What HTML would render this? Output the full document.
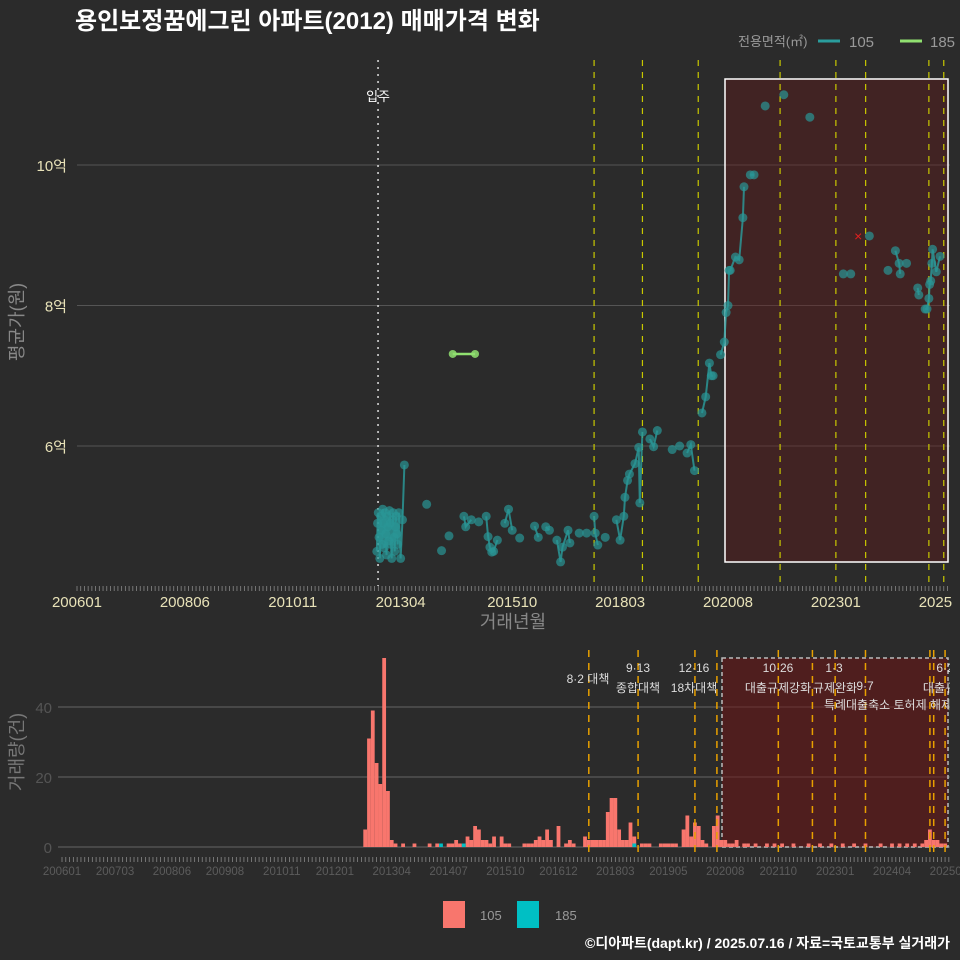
<!DOCTYPE html>
<html><head><meta charset="utf-8">
<style>
html,body{margin:0;padding:0;background:#2b2b2b;}
svg{display:block;font-family:"Liberation Sans","Noto Sans CJK KR",sans-serif;}
</style></head>
<body>
<svg id="chart" width="960" height="960" viewBox="0 0 960 960">
<rect x="0" y="0" width="960" height="960" fill="#2b2b2b"/>
<text x="75" y="29" fill="#ffffff" font-size="24" font-weight="bold">용인보정꿈에그린 아파트(2012) 매매가격 변화</text>
<g>
<text x="738" y="46" fill="#999" font-size="13">전용면적(㎡)</text>
<line x1="818" y1="41" x2="840" y2="41" stroke="#2a9d9d" stroke-width="3"/>
<text x="849" y="47" fill="#999" font-size="15">105</text>
<line x1="900" y1="41" x2="922" y2="41" stroke="#90e070" stroke-width="3"/>
<text x="930" y="47" fill="#999" font-size="15">185</text>
</g>
<defs><clipPath id="tclip"><rect x="0" y="590" width="952" height="30"/></clipPath></defs>
<g id="topPanel"></g>
<g id="botPanel"></g>
<g>
<rect x="443" y="901" width="22" height="27" fill="#f8766d"/>
<text x="480" y="920" fill="#999" font-size="13">105</text>
<rect x="517" y="901" width="22" height="27" fill="#00bfc4"/>
<text x="555" y="920" fill="#999" font-size="13">185</text>
</g>
<text x="950" y="948" fill="#ffffff" font-size="14" font-weight="bold" text-anchor="end">©디아파트(dapt.kr) / 2025.07.16 / 자료=국토교통부 실거래가</text>
</svg>
<script>
// month index m = months since 2006-01
const yTicks = [6, 8, 10];
const yTickLabels = ["6억", "8억", "10억"];
const xTickMonths = [0, 29, 58, 87, 117, 146, 175, 204, 233];
const xTickLabels = ["200601","200806","201011","201304","201510","201803","202008","202301","202506"];
const p105m = [80.6,80.8,81,81.2,81.4,81.6,81.8,82,82.2,82.4,82.6,82.8,83,83.2,83.4,83.6,83.8,84,84.2,84.4,84.6,84.8,85,85.2,85.4,85.6,85.8,86,86.2,86.5,87,87.5,88,
 94,98,100,104,104.5,106,108,110,110.5,111,111.5,112,113,115,116,117,119,123,124,126,127,129,130,130.5,132,132.5,135,137,139,139.3,140,142,145,146,147,147.3,148,148.5,150,151,151.3,152,154,155,156,
 160,162,164,165,166,168,169,170,170.5,171,173,174,174.5,175,175.3,175.6,177,178,179,179.3,181,182,185,190,197,206,208,213,218,220,221,221.3,223,226,226.3,228,228.5,229,229.2,229.5,229.8,230,231,232];
const p105v = [4.5,4.9,5.05,4.7,4.4,5.0,4.8,4.6,5.1,4.9,4.55,5.05,4.75,4.45,5.0,4.85,4.65,5.08,4.9,4.6,4.4,4.95,5.05,4.7,4.5,4.85,5.0,4.75,4.6,5.05,4.4,4.95,5.73,
 5.17,4.51,4.72,5.0,4.85,4.95,4.92,5.0,4.71,4.56,4.49,4.5,4.66,4.9,5.1,4.8,4.69,4.86,4.7,4.85,4.8,4.66,4.35,4.56,4.8,4.62,4.76,4.76,5.0,4.76,4.59,4.7,4.95,4.66,5.0,5.27,5.51,5.6,5.75,5.98,5.19,6.2,6.1,5.99,6.22,
 5.95,6.0,5.9,6.02,5.65,6.47,6.7,7.18,7.0,7.0,7.3,7.48,7.9,8.0,8.5,8.5,8.69,8.65,9.25,9.69,9.86,9.86,10.84,11.0,10.68,8.45,8.45,8.99,8.5,8.78,8.6,8.45,8.6,8.25,8.15,7.95,7.95,8.1,8.3,8.35,8.6,8.8,8.48,8.7,8.7];
const p185m = [101, 107];
const p185v = [7.31, 7.31];
const redXm = [210];
const redXv = [8.99];
const topPolicyMonths = [139,152,167,189,204,212,229,233];
const occupancyMonth = [82];
// volume panel
const bTicks = [0, 20, 40];
const bXTickMonths = [0,14,29,43,58,72,87,102,117,131,146,160,175,189,204,219,234];
const bXTickLabels = ["200601","200703","200806","200908","201011","201201","201304","201407","201510","201612","201803","201905","202008","202110","202301","202404","202507"];
const bar105m = [80,81,82,83,84,85,86,87,88,90,93,97,99,102,103,104,105,107,108,109,110,111,112,113,114,116,117,118,122,123,124,125,126,127,128,129,131,133,134,135,138,139,140,141,142,143,144,145,146,147,148,149,150,151,153,154,155,158,159,160,161,162,164,165,166,167,168,169,170,172,173,174,175,176,177,178,180,181,183,186,188,190,193,197,200,203,206,209,212,216,219,221,223,225,227,228,229,230,231,232,233];
const bar105v = [5,31,39,24,18,54,16,2,1,1,1,1,1,1,1,2,1,3,2,6,5,2,2,1,3,3,1,1,1,1,1,2,3,2,5,2,6,1,2,1,3,2,2,2,2,2,10,14,14,5,2,2,7,3,1,1,1,1,1,1,1,1,5,9,3,7,6,2,1,6,9,2,2,1,1,2,1,1,1,1,1,1,1,1,1,1,1,1,1,1,1,1,1,1,1,2,5,2,2,1,1];
const bar185m = [100, 106, 151];
const bar185v = [1, 1, 1];
const botPolicyMonths = [139,152,167,172.8,189,198,204,212,229,230,233];
const botLabels = [["8·2 대책",588,683],["9·13",638,672],["종합대책",638,692],["12·16",694,672],["18차대책",694,692],["10·26",778,672],["대출규제강화",778,692],["1·3",834,672],["규제완화",835,692],["9·7",865,690],["특례대출축소 토허제 해제",888,709],["6·2",945,672],["대출규제",945,692]];

const NS="http://www.w3.org/2000/svg";
function mk(parent,tag,attrs){const e=document.createElementNS(NS,tag);for(const k in attrs)e.setAttribute(k,attrs[k]);parent.appendChild(e);return e;}
const topG=document.getElementById('topPanel'), botG=document.getElementById('botPanel');
const tx=m=>77+3.72*m, ty=v=>446-(v-6)*70.25;
const bx=m=>62+3.79*m, by=v=>847-v*3.5;

yTicks.forEach((t,i)=>{
 const g=mk(topG,'line',{x1:77,x2:950,y1:ty(t),y2:ty(t),stroke:'#555','stroke-width':1});
 
 
 const l=mk(topG,'text',{x:67,y:ty(t)+6,fill:'#e8e2b8','font-size':15,'text-anchor':'end'});
 l.textContent=yTickLabels[i];
 
 
});
const box=mk(topG,'rect',{x:725,y:79,width:223,height:483,fill:'rgba(100,25,25,0.4)',stroke:'#fff','stroke-width':1.5});


for(let m=0;m<=234;m++){
 const t=mk(topG,'line',{x1:tx(m),x2:tx(m),y1:586,y2:591,stroke:'#888','stroke-width':0.8});
 
 
 const t2=mk(botG,'line',{x1:bx(m),x2:bx(m),y1:857,y2:862,stroke:'#888','stroke-width':0.8});
 
 
}
const tl=mk(topG,'g',{'clip-path':'url(#tclip)'});
xTickMonths.forEach((m,i)=>{
 const l=mk(tl,'text',{x:tx(m),y:607,fill:'#e8e2b8','font-size':15,'text-anchor':'middle'});
 l.textContent=xTickLabels[i];
 
 
});
topPolicyMonths.forEach(m=>{
 const l=mk(topG,'line',{x1:tx(m),x2:tx(m),y1:60,y2:586,stroke:'#c8c800','stroke-width':1.2,'stroke-dasharray':'6,6'});
 
 
});
occupancyMonth.forEach(m=>{
 const l=mk(topG,'line',{x1:tx(m)-4,x2:tx(m)-4,y1:60,y2:586,stroke:'#ddd','stroke-width':1.5,'stroke-dasharray':'2,5'});
 
 
 const t=mk(topG,'text',{x:tx(m)-4,y:101,fill:'#fff','font-size':13,'text-anchor':'middle'});
 t.textContent='입주';
 
 
});
// line segments only between points close in time
let d='';
p105m.forEach((m,i)=>{
 const cmd=(i>0 && m-p105m[i-1]<=1.6)?'L':'M';
 d+=cmd+tx(m).toFixed(1)+','+ty(p105v[i]).toFixed(1);
});
const ln=mk(topG,'path',{d:d,fill:'none',stroke:'#2a9d9d','stroke-width':2,opacity:0.8});


p105m.forEach((m,i)=>{
 const c=mk(topG,'circle',{cx:tx(m),cy:ty(p105v[i]),r:4.5,fill:'#2a9595',opacity:0.7});
 
 
});
let d2=p185m.map((m,i)=>(i?'L':'M')+tx(m)+','+ty(p185v[i])).join('');
const ln2=mk(topG,'path',{d:d2,fill:'none',stroke:'#90e070','stroke-width':2.5});


p185m.forEach((m,i)=>{
 const c=mk(topG,'circle',{cx:tx(m),cy:ty(p185v[i]),r:4,fill:'#90e070',opacity:0.85});
 
 
});
redXm.forEach((m,i)=>{
 const t=mk(topG,'text',{x:tx(m),y:ty(redXv[i])+5,fill:'#e02020','font-size':14,'text-anchor':'middle'});
 t.textContent='×';
 
 
});
const ytitle=mk(topG,'text',{x:23,y:322,fill:'#888','font-size':18,'text-anchor':'middle',transform:'rotate(-90 23 322)'});
ytitle.textContent='평균가(원)';


const xtitle=mk(topG,'text',{x:513,y:628,fill:'#888','font-size':18,'text-anchor':'middle'});
xtitle.textContent='거래년월';



bTicks.forEach(t=>{
 const g=mk(botG,'line',{x1:58,x2:950,y1:by(t),y2:by(t),stroke:'#666','stroke-width':1});
 
 
 const l=mk(botG,'text',{x:52,y:by(t)+6,fill:'#555','font-size':15,'text-anchor':'end'});
 l.textContent=t;
 
 
});
const bbox=mk(botG,'rect',{x:722,y:658,width:226,height:189,fill:'rgba(110,20,20,0.55)',stroke:'#bbb','stroke-width':1.5,'stroke-dasharray':'4,3'});


const bw=3.79;
bar105m.forEach((m,i)=>{
 const r=mk(botG,'rect',{x:bx(m)-bw/2,y:by(bar105v[i]),width:bw,height:bar105v[i]*3.5,fill:'#f8766d'});
 
 
});
bar185m.forEach((m,i)=>{
 const r=mk(botG,'rect',{x:bx(m)-bw/2,y:by(bar185v[i]),width:bw,height:bar185v[i]*3.5,fill:'#00bfc4'});
 
 
});
botPolicyMonths.forEach(m=>{
 const l=mk(botG,'line',{x1:bx(m),x2:bx(m),y1:650,y2:857,stroke:'#e8a000','stroke-width':1.5,'stroke-dasharray':'7,6'});
 
 
});
const cp=mk(botG,'clipPath',{id:'bclip'});
mk(cp,'rect',{x:0,y:640,width:950,height:100});
const lg=mk(botG,'g',{'clip-path':'url(#bclip)'});
botLabels.forEach(a=>{
 const t=mk(lg,'text',{x:a[1],y:a[2],fill:'#ddd','font-size':12,'text-anchor':'middle'});
 t.textContent=a[0];
 
 
});
bXTickMonths.forEach((m,i)=>{
 const l=mk(botG,'text',{x:bx(m),y:875,fill:'#5c5c5c','font-size':11.5,'text-anchor':'middle'});
 l.textContent=bXTickLabels[i];
 
 
});
const vt=mk(botG,'text',{x:23,y:752,fill:'#777','font-size':18,'text-anchor':'middle',transform:'rotate(-90 23 752)'});
vt.textContent='거래량(건)';


</script>
</body></html>
